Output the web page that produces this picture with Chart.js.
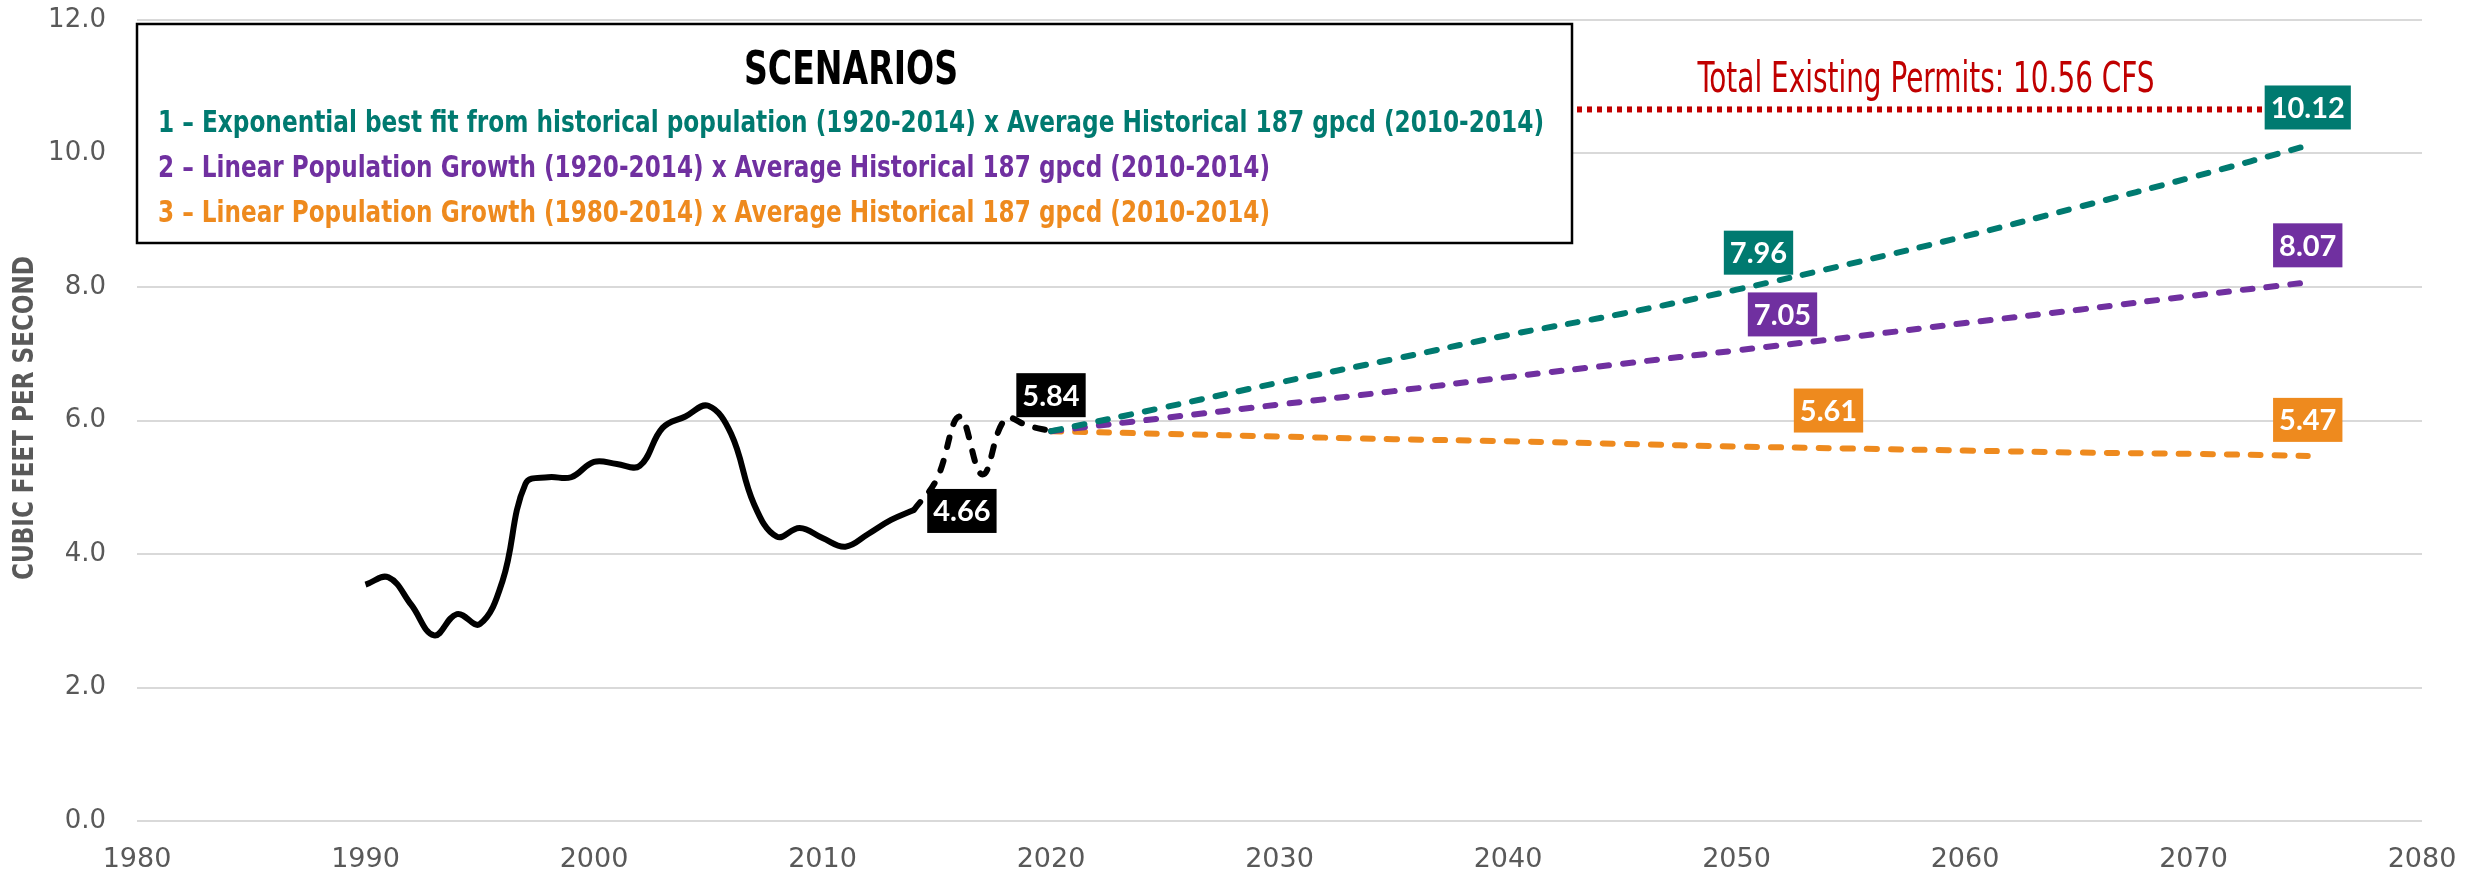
<!DOCTYPE html>
<html>
<head>
<meta charset="utf-8">
<script src="https://cdn.jsdelivr.net/npm/chart.js@4.4.1/dist/chart.umd.min.js"></script>
<style>
  html, body { margin: 0; padding: 0; background: #fff; }
  #wrap { width: 2473px; height: 878px; position: relative; }
</style>
</head>
<body>
<div id="wrap"><canvas id="myChart"></canvas></div>
<script>
// historical demand (solid) 1990-2014
const histYears = [1990, 1991, 1992, 1993, 1994, 1995, 1996, 1997, 1998, 1999, 2000, 2001, 2002,
                   2003, 2004, 2005, 2006, 2007, 2008, 2009, 2010, 2011, 2012, 2013, 2014];
const histValues = [3.54, 3.65, 3.24, 2.78, 3.10, 2.95, 3.60, 5.05, 5.15, 5.15, 5.38, 5.35, 5.32,
                    5.89, 6.06, 6.22, 5.80, 4.75, 4.26, 4.39, 4.24, 4.11, 4.30, 4.51, 4.66];

// recent estimate (dashed black) 2014-2020
const recentYears = [2014, 2015, 2016, 2017, 2018, 2019, 2020];
const recentValues = [4.66, 5.12, 6.06, 5.19, 6.02, 5.92, 5.84];

// scenario projections 2020-2075
const projYears = [2020, 2025, 2030, 2035, 2040, 2045, 2050, 2055, 2060, 2065, 2070, 2075];
const scenario1 = [5.84, 6.20, 6.57, 6.92, 7.28, 7.60, 7.96, 8.35, 8.76, 9.20, 9.65, 10.12];
const scenario2 = [5.84, 6.04, 6.24, 6.44, 6.65, 6.85, 7.05, 7.25, 7.46, 7.66, 7.87, 8.07];
const scenario3 = [5.84, 5.80, 5.76, 5.72, 5.69, 5.65, 5.61, 5.58, 5.55, 5.52, 5.50, 5.47];

// existing permits line
const permitYears = [1980, 2073];
const permitValues = [10.66, 10.66];

const scenarioTexts = [
    '1 \u2013 Exponential best fit from historical population (1920-2014) x Average Historical 187 gpcd (2010-2014)',
    '2 \u2013 Linear Population Growth (1920-2014) x Average Historical 187 gpcd (2010-2014)',
    '3 \u2013 Linear Population Growth (1980-2014) x Average Historical 187 gpcd (2010-2014)'
];

const TEAL = '#007A70';
const PURPLE = '#7030A0';
const ORANGE = '#EE8A1E';
const RED = '#C00000';
const GREY = '#595959';
const NARROW = "'Liberation Sans Narrow', 'DejaVu Sans Condensed', 'Roboto', sans-serif";

function pts(xs, ys) {
    return xs.map((x, i) => ({ x: x, y: ys[i] }));
}

// value boxes: dataset index, point index, pixel offset of box centre
const valueBoxes = [
    { ds: 1, i: 0, dx: 48, dy: 1, color: '#000' },
    { ds: 1, i: 6, dx: 0, dy: -36, color: '#000' },
    { ds: 2, i: 6, dx: 22, dy: -37, color: TEAL },
    { ds: 3, i: 6, dx: 46, dy: -36, color: PURPLE },
    { ds: 4, i: 6, dx: 92, dy: -36, color: ORANGE },
    { ds: 2, i: 11, dx: 0, dy: -38, color: TEAL },
    { ds: 3, i: 11, dx: 0, dy: -37, color: PURPLE },
    { ds: 4, i: 11, dx: 0, dy: -36, color: ORANGE }
];

// draw text squeezed/stretched to a given width
function fitText(ctx, text, x, y, width, font, color, align) {
    ctx.save();
    ctx.font = font;
    ctx.fillStyle = color;
    ctx.textBaseline = 'alphabetic';
    ctx.textAlign = align;
    const w = ctx.measureText(text).width;
    ctx.translate(x, y);
    ctx.scale(width / w, 1);
    ctx.fillText(text, 0, 0);
    ctx.restore();
}

function noPad(s) {
    s.paddingTop = 0;
    s.paddingBottom = 0;
    s.paddingLeft = 0;
    s.paddingRight = 0;
}

const overlay = {
    id: 'overlay',
    afterDatasetsDraw(chart) {
        const ctx = chart.ctx;

        // scenarios box
        ctx.save();
        ctx.fillStyle = '#fff';
        ctx.fillRect(137, 24, 1435, 219);
        ctx.strokeStyle = '#000';
        ctx.lineWidth = 2.5;
        ctx.strokeRect(137, 24, 1435, 219);
        ctx.restore();

        fitText(ctx, 'SCENARIOS', 851, 84, 214, 'bold 46px ' + NARROW, '#000', 'center');
        fitText(ctx, scenarioTexts[0], 158, 132, 1386, 'bold 30px ' + NARROW, TEAL, 'left');
        fitText(ctx, scenarioTexts[1], 158, 177, 1112, 'bold 30px ' + NARROW, PURPLE, 'left');
        fitText(ctx, scenarioTexts[2], 158, 222, 1112, 'bold 30px ' + NARROW, ORANGE, 'left');

        // permit caption
        fitText(ctx, 'Total Existing Permits: 10.56 CFS', 1926, 92, 457, '42px ' + NARROW, RED, 'center');

        // y axis title
        ctx.save();
        ctx.translate(33, 418);
        ctx.rotate(-Math.PI / 2);
        fitText(ctx, 'CUBIC FEET PER SECOND', 0, 0, 324, 'bold 29px ' + NARROW, GREY, 'center');
        ctx.restore();

        // value boxes
        valueBoxes.forEach(b => {
            const p = chart.getDatasetMeta(b.ds).data[b.i];
            const v = chart.data.datasets[b.ds].data[b.i].y;
            const txt = v.toFixed(2);
            ctx.save();
            ctx.font = 'bold 29px Lato';
            const w = ctx.measureText(txt).width + 12;
            const h = 44;
            const cx = p.x + b.dx, cy = p.y + b.dy;
            ctx.fillStyle = b.color;
            ctx.fillRect(cx - w / 2, cy - h / 2, w, h);
            ctx.fillStyle = '#fff';
            ctx.textAlign = 'center';
            ctx.textBaseline = 'middle';
            ctx.fillText(txt, cx, cy + 1);
            ctx.restore();
        });
    }
};

const ctx = document.getElementById('myChart').getContext('2d');

const myChart = new Chart(ctx, {
    type: 'line',
    data: {
        datasets: [
            {
                label: 'Historical',
                data: pts(histYears, histValues),
                borderColor: '#000',
                borderWidth: 6,
                tension: 0.4,
                pointRadius: 0
            },
            {
                label: 'Recent',
                data: pts(recentYears, recentValues),
                borderColor: '#000',
                borderWidth: 6,
                borderDash: [10, 14],
                borderCapStyle: 'round',
                tension: 0.4,
                pointRadius: 0
            },
            {
                label: 'Scenario 1',
                data: pts(projYears, scenario1),
                borderColor: TEAL,
                borderWidth: 6,
                borderDash: [10, 14],
                borderCapStyle: 'round',
                tension: 0.4,
                pointRadius: 0
            },
            {
                label: 'Scenario 2',
                data: pts(projYears, scenario2),
                borderColor: PURPLE,
                borderWidth: 6,
                borderDash: [10, 14],
                borderCapStyle: 'round',
                tension: 0.4,
                pointRadius: 0
            },
            {
                label: 'Scenario 3',
                data: pts(projYears, scenario3),
                borderColor: ORANGE,
                borderWidth: 6,
                borderDash: [10, 14],
                borderCapStyle: 'round',
                tension: 0.4,
                pointRadius: 0
            },
            {
                label: 'Permits',
                data: pts(permitYears, permitValues),
                borderColor: RED,
                borderWidth: 6,
                borderDash: [5, 5],
                pointRadius: 0
            }
        ]
    },
    options: {
        responsive: true,
        maintainAspectRatio: false,
        animation: false,
        layout: { padding: { left: 0, top: 20, right: 51, bottom: 0 } },
        plugins: {
            legend: { display: false },
            tooltip: { enabled: false }
        },
        scales: {
            x: {
                type: 'linear',
                min: 1980,
                max: 2080,
                border: { display: false },
                grid: { display: false, drawTicks: false },
                ticks: {
                    stepSize: 10,
                    padding: 23,
                    color: GREY,
                    font: { family: 'DejaVu Sans', size: 27 },
                    callback: v => String(v)
                },
                afterFit: s => { s.height = 57; noPad(s); }
            },
            y: {
                min: 0,
                max: 12,
                border: { display: false },
                grid: { color: '#D9D9D9', lineWidth: 2, drawTicks: false },
                ticks: {
                    stepSize: 2,
                    padding: 31,
                    color: GREY,
                    font: { family: 'DejaVu Sans', size: 26 },
                    callback: v => v.toFixed(1)
                },
                afterFit: s => { s.width = 137; noPad(s); }
            }
        }
    },
    plugins: [overlay]
});
</script>
</body>
</html>
